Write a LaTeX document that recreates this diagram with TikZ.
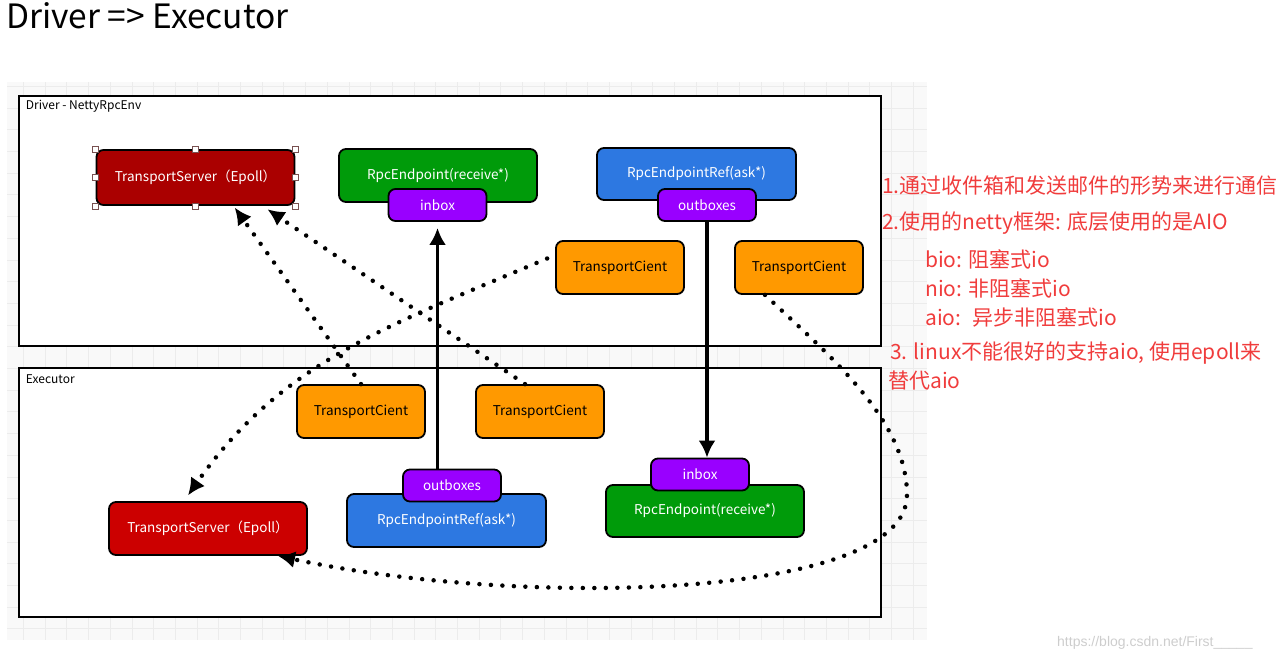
\documentclass[tikz,border=0pt]{standalone}
\usepackage{fontspec}
\newfontfamily\cjk{Noto Sans CJK SC}
\newfontfamily\webfont{Liberation Sans}
\usepackage{tikz}
\usetikzlibrary{arrows.meta}
\usetikzlibrary{calc}

\definecolor{srvdark}{RGB}{170,0,0}
\definecolor{srvred}{RGB}{204,0,0}
\definecolor{epgreen}{RGB}{0,155,10}
\definecolor{refblue}{RGB}{45,120,225}
\definecolor{boxpurple}{RGB}{153,0,255}
\definecolor{cliorange}{RGB}{255,153,0}
\definecolor{notered}{RGB}{240,60,60}
\definecolor{handlebrown}{RGB}{120,80,80}
\definecolor{gridfill}{RGB}{249,249,249}
\definecolor{gridgray}{RGB}{236,236,236}
\definecolor{markgray}{RGB}{205,205,205}

\tikzset{
  box/.style={draw=black, line width=1.8pt, rounded corners=7pt, inner sep=0pt,
    minimum height=53pt, text=white, font=\cjk\fontsize{13.5}{16}\selectfont},
  server/.style={box, minimum width=198pt},
  endpoint/.style={box, fill=epgreen, minimum width=198pt},
  endref/.style={box, fill=refblue, minimum width=199pt},
  client/.style={box, fill=cliorange, minimum width=128pt, text=black},
  mailbox/.style={box, fill=boxpurple, minimum width=98pt, minimum height=32pt},
  frame/.style={draw=black, line width=2.5pt, fill=white, inner sep=0pt},
  framelabel/.style={anchor=west, inner sep=0pt, font=\cjk\fontsize{12}{14}\selectfont},
  solidarrow/.style={line width=3.6pt, -{Latex[length=17pt,width=17pt]}},
  dotarrow/.style={line width=4.5pt, line cap=round, dash pattern=on 0pt off 11.5pt,
    -{Latex[length=17pt,width=17pt]}},
  note/.style={anchor=west, inner sep=0pt, text=notered, font=\cjk\fontsize{21}{24}\selectfont},
  handle/.style={draw=handlebrown, fill=white, line width=0.8pt},
  gridline/.style={draw=gridgray, line width=0.8pt}
}

\begin{document}
\begin{tikzpicture}[x=1pt, y=-1pt]
  \useasboundingbox (0,0) rectangle (1287,659);

  \node[anchor=base west, inner sep=0pt, font=\cjk\fontsize{33.5}{38}\selectfont] (title) at (6,28) {Driver => Executor};

  % grid paper behind the frames
  \fill[gridfill] (7,82) rectangle (927,640);
  \foreach \gx in {23.4,45.1,...,920} \draw[gridline] (\gx,82) -- (\gx,640);
  \foreach \gy in {86.3,108,...,640} \draw[gridline] (7,\gy) -- (927,\gy);

  \node[frame, minimum width=862pt, minimum height=250pt] (drv) at (450,221) {}; % driver frame
  \node[framelabel] (drvlabel) at ([xshift=8pt,yshift=-12pt]drv.north west) {Driver - NettyRpcEnv};
  \node[frame, minimum width=862pt, minimum height=249pt] (exe) at (450,492.5) {}; % executor frame
  \node[framelabel] (exelabel) at ([xshift=8pt,yshift=-12pt]exe.north west) {Executor};

  % driver side
  \node[server, fill=srvdark, minimum height=55pt] (srvD) at (195.5,177.5) {TransportServer（Epoll）};
  \foreach \a in {north west,north,north east,east,south east,south,south west,west}
    \draw[handle] ([shift={(-3pt,-3pt)}]srvD.\a) rectangle ++(6pt,6pt);
  \node[endpoint] (epT) at (438,175.5) {RpcEndpoint(receive*)};
  \node[mailbox] (ibT) at (437.5,205) {inbox};
  \node[endref, minimum height=52pt] (refT) at (696.5,174) {RpcEndpointRef(ask*)};
  \node[mailbox] (obT) at (707,205) {outboxes};
  \node[client] (tcT1) at (620,267.5) {TransportCient};
  \node[client] (tcT2) at (799,267.5) {TransportCient};

  % executor side
  \node[client] (tcB1) at (361,411.5) {TransportCient};
  \node[client] (tcB2) at (540,411.5) {TransportCient};
  \node[endref] (refB) at (446.5,520.5) {RpcEndpointRef(ask*)};
  \node[mailbox] (obB) at (452,485.5) {outboxes};
  \node[endpoint, minimum height=52pt] (epB) at (705,511) {RpcEndpoint(receive*)};
  \node[mailbox] (ibB) at (700,474.5) {inbox};
  \node[server, fill=srvred] (srvE) at (208,528.5) {TransportServer（Epoll）};

  % messages
  \draw[solidarrow, shorten >=6pt] (obB.north -| ibT) -- (ibT.south);
  \draw[solidarrow] (obT.south) -- (obT.south |- ibB.north);

  % connections
  \draw[dotarrow, shorten >=2pt] (tcB1.north) -- ([xshift=38pt]srvD.south);
  \draw[dotarrow, shorten >=6pt] ([xshift=-15pt]tcB2.north) -- ([xshift=67pt]srvD.south);
  \draw[dotarrow, shorten >=7pt] ([xshift=-8pt,yshift=9pt]tcT1.west) to[out=203,in=55] ([xshift=-24pt]srvE.north);
  \coordinate (bendR) at (907,495);
  \draw[dotarrow] ([xshift=-34pt]tcT2.south) .. controls (830,356) and (907,420) .. (bendR)
    .. controls (907,600) and (520,608) .. ([xshift=70pt]srvE.south);

  % notes on the right
  \node[note] (note1) at (882,186) {1.通过收件箱和发送邮件的形势来进行通信};
  \node[note] (note2) at (882,223) {2.使用的netty框架: 底层使用的是AIO};
  \node[note] (bio) at (925,259) {bio: 阻塞式io};
  \node[note] (nio) at (925,288) {nio: 非阻塞式io};
  \node[note] (aio) at (925,317) {aio: \ 异步非阻塞式io};
  \node[note] (note3) at (890,353) {3. linux不能很好的支持aio, 使用epoll来};
  \node[note] (note3b) at (888,381) {替代aio};

  \node[anchor=base west, inner sep=0pt, text=markgray, font=\webfont\fontsize{14}{16}\selectfont] (mark) at (1057,646) {https://blog.csdn.net/First\_\_\_\_\_};
\end{tikzpicture}
\end{document}
